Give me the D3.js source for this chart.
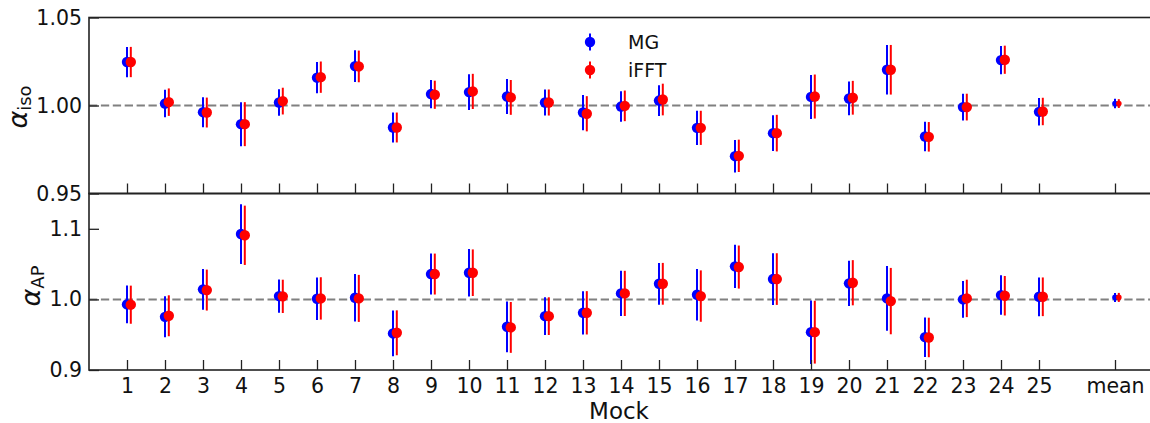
<!DOCTYPE html>
<html>
<head>
<meta charset="utf-8">
<script src="https://cdn.jsdelivr.net/npm/d3@7"></script>
<style>
  html, body { margin: 0; padding: 0; background: #fff; }
  svg { display: block; font-family: "DejaVu Sans", sans-serif; }
</style>
</head>
<body>
<svg id="chart" width="1150" height="423"></svg>
<script>
// Mock catalogues (plus their mean) and where each sits on the x axis
const xTickLabels = ["1","2","3","4","5","6","7","8","9","10","11","12","13","14","15","16","17","18","19","20","21","22","23","24","25","mean"];
const xPositions  = [1,2,3,4,5,6,7,8,9,10,11,12,13,14,15,16,17,18,19,20,21,22,23,24,25,27];

// alpha_iso fits
const isoMG      = [1.0247,1.0011,0.9962,0.9894,1.0017,1.0158,1.0224,0.9875,1.0065,1.0076,1.0051,1.0017,0.9960,0.9994,1.0028,0.9873,0.9712,0.9843,1.0049,1.0040,1.0203,0.9824,0.9991,1.0258,0.9964,1.0011];
const isoMGErr   = [0.0086,0.0078,0.0085,0.0125,0.0075,0.0089,0.0090,0.0085,0.0080,0.0102,0.0099,0.0074,0.0100,0.0087,0.0087,0.0097,0.0092,0.0102,0.0125,0.0096,0.0141,0.0084,0.0076,0.0080,0.0078,0.0027];
const isoIFFT    = [1.0247,1.0019,0.9960,0.9894,1.0025,1.0161,1.0222,0.9875,1.0061,1.0080,1.0046,1.0017,0.9953,0.9998,1.0034,0.9873,0.9714,0.9843,1.0051,1.0044,1.0203,0.9822,0.9991,1.0260,0.9966,1.0011];
const isoIFFTErr = [0.0086,0.0078,0.0085,0.0125,0.0076,0.0089,0.0090,0.0085,0.0080,0.0100,0.0099,0.0074,0.0100,0.0087,0.0090,0.0097,0.0092,0.0104,0.0125,0.0096,0.0141,0.0084,0.0076,0.0080,0.0078,0.0025];

// alpha_AP fits
const apMG       = [0.9929,0.9753,1.0142,1.0926,1.0047,1.0009,1.0023,0.9518,1.0359,1.0378,0.9612,0.9763,0.9810,1.0085,1.0221,1.0066,1.0468,1.0288,0.9536,1.0227,1.0014,0.9465,1.0000,1.0061,1.0037,1.0028];
const apMGErr    = [0.0267,0.0290,0.0290,0.0423,0.0236,0.0300,0.0336,0.0324,0.0290,0.0336,0.0360,0.0267,0.0307,0.0320,0.0296,0.0364,0.0307,0.0366,0.0450,0.0320,0.0459,0.0280,0.0260,0.0280,0.0274,0.0064];
const apIFFT     = [0.9925,0.9768,1.0132,1.0908,1.0043,1.0014,1.0014,0.9527,1.0359,1.0378,0.9603,0.9763,0.9810,1.0085,1.0221,1.0047,1.0458,1.0288,0.9536,1.0236,0.9976,0.9461,1.0014,1.0052,1.0037,1.0028];
const apIFFTErr  = [0.0270,0.0290,0.0290,0.0420,0.0236,0.0300,0.0333,0.0318,0.0290,0.0330,0.0360,0.0267,0.0307,0.0320,0.0296,0.0364,0.0305,0.0366,0.0445,0.0320,0.0470,0.0280,0.0265,0.0280,0.0274,0.0064];

// y tick values and their labels
const isoTicks = [0.95, 1.00, 1.05];
const isoTickLabels = ["0.95", "1.00", "1.05"];
const apTicks = [0.9, 1.0, 1.1];
const apTickLabels = ["0.9", "1.0", "1.1"];

const seriesNames = ["MG", "iFFT"];
const seriesColors = ["#0000ff", "#ff0000"];
const seriesShift = [0, 0.1];   // small horizontal offset between the two fits

const svg = d3.select("#chart");
const left = 89, right = 1153;
const x = d3.scaleLinear().domain([0, 28]).range([left, right]);

const panels = [
  { top: 17.5, bottom: 193.5, domain: [0.95, 1.05], ticks: isoTicks, tickLabels: isoTickLabels,
    fmt: "iso", series: [[isoMG, isoMGErr], [isoIFFT, isoIFFTErr]], showX: false,
    labelX: 27, labelY: 107 },
  { top: 193.5, bottom: 370, domain: [0.9, 1.15], ticks: apTicks, tickLabels: apTickLabels,
    fmt: "AP", series: [[apMG, apMGErr], [apIFFT, apIFFTErr]], showX: true,
    labelX: 39.5, labelY: 286 }
];

const tickFont = 20.5;

panels.forEach(p => {
  const y = d3.scaleLinear().domain(p.domain).range([p.bottom, p.top]);
  const g = svg.append("g");

  // reference line at 1
  g.append("line")
    .attr("x1", left).attr("x2", right)
    .attr("y1", y(1)).attr("y2", y(1))
    .attr("stroke", "#808080").attr("stroke-width", 2)
    .attr("stroke-dasharray", "8.3,3.6");

  // error bars and points for each fit
  p.series.forEach((s, k) => {
    const [vals, errs] = s;
    const col = seriesColors[k];
    const sg = g.append("g");
    sg.selectAll("line.err").data(vals).enter().append("line")
      .attr("class", "err")
      .attr("x1", (d, i) => x(xPositions[i] + seriesShift[k]))
      .attr("x2", (d, i) => x(xPositions[i] + seriesShift[k]))
      .attr("y1", (d, i) => y(d - errs[i]))
      .attr("y2", (d, i) => y(d + errs[i]))
      .attr("stroke", col).attr("stroke-width", 2);
    sg.selectAll("circle").data(vals).enter().append("circle")
      .attr("cx", (d, i) => x(xPositions[i] + seriesShift[k]))
      .attr("cy", d => y(d))
      .attr("r", (d, i) => xTickLabels[i] === "mean" ? 2.8 : 5.2)
      .attr("fill", col);
  });

  // y axis, ticks inside
  const yAxis = d3.axisLeft(y).tickValues(p.ticks)
    .tickFormat((d, i) => p.tickLabels[i]).tickSize(-10).tickPadding(7);
  const ya = g.append("g").attr("transform", `translate(${left},0)`).call(yAxis);
  ya.select(".domain").remove();
  ya.selectAll(".tick line").attr("stroke", "#222").attr("stroke-width", 1.3);
  ya.selectAll(".tick text").attr("font-size", tickFont).attr("fill", "#111")
    .attr("font-family", "DejaVu Sans");

  // x axis, ticks inside
  const xAxis = d3.axisBottom(x).tickValues(xPositions)
    .tickFormat((d, i) => p.showX ? xTickLabels[i] : "").tickSize(-10).tickPadding(8);
  const xa = g.append("g").attr("transform", `translate(0,${p.bottom})`).call(xAxis);
  xa.select(".domain").remove();
  xa.selectAll(".tick line").attr("stroke", "#222").attr("stroke-width", 1.3);
  xa.selectAll(".tick text").attr("font-size", tickFont).attr("fill", "#111")
    .attr("font-family", "DejaVu Sans");

  // frame
  g.append("rect")
    .attr("x", left).attr("y", p.top)
    .attr("width", right - left).attr("height", p.bottom - p.top)
    .attr("fill", "none").attr("stroke", "#222").attr("stroke-width", 1.6);

  // y label: alpha with subscript
  const lab = svg.append("text")
    .attr("transform", `translate(${p.labelX},${p.labelY}) rotate(-90)`)
    .attr("text-anchor", "middle")
    .attr("fill", "#111");
  lab.append("tspan").text("α").attr("font-size", 27).attr("font-style", "italic")
    .attr("font-family", "DejaVu Sans");
  lab.append("tspan").text(p.fmt).attr("font-size", 18).attr("dy", 4)
    .attr("font-family", "DejaVu Sans");
});

// x axis title
svg.append("text")
  .attr("x", (left + right) / 2 - 2).attr("y", 419)
  .attr("text-anchor", "middle")
  .attr("font-size", 23).attr("fill", "#111")
  .text("Mock");

// legend
const legendY = [42, 70];
seriesNames.forEach((name, k) => {
  const lg = svg.append("g");
  lg.append("line")
    .attr("x1", 590).attr("x2", 590)
    .attr("y1", legendY[k] - 8.5).attr("y2", legendY[k] + 8.5)
    .attr("stroke", seriesColors[k]).attr("stroke-width", 2);
  lg.append("circle").attr("cx", 590).attr("cy", legendY[k]).attr("r", 5.2)
    .attr("fill", seriesColors[k]);
  lg.append("text").attr("x", 628).attr("y", legendY[k] + 7)
    .attr("font-size", 19).attr("fill", "#111").text(name);
});
</script>
</body>
</html>
